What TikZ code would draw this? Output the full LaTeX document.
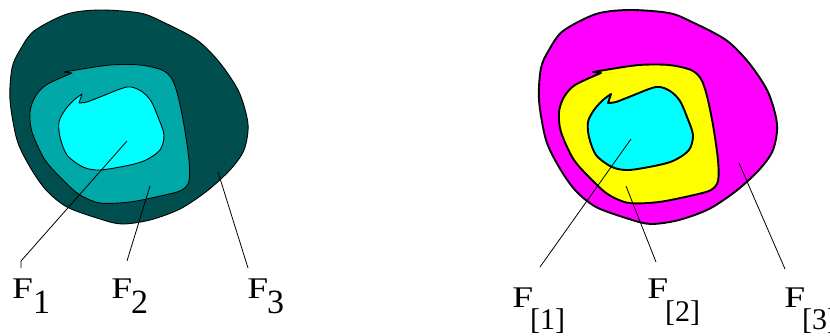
\documentclass[tikz,border=0pt]{standalone}
\usepackage{fontspec}
\setmainfont{Liberation Serif}
\definecolor{darkteal}{RGB}{0,78,78}
\definecolor{midteal}{RGB}{0,168,168}
\definecolor{brightcyan}{RGB}{0,255,255}
\definecolor{brightmag}{RGB}{255,0,255}
\definecolor{brightyel}{RGB}{255,255,0}
\begin{document}
\begin{tikzpicture}[x=1pt,y=-1pt,
  region/.style={draw=black,line join=round},
  thinregion/.style={region,line width=0.9pt},
  thickregion/.style={region,line width=1.9pt},
  leader/.style={draw=black,line width=0.8pt},
  bigF/.style={anchor=base west,inner sep=0pt,font=\fontsize{30}{30}\selectfont,xscale=1.25},
  subL/.style={anchor=base west,inner sep=0pt,font=\fontsize{34}{34}\selectfont},
  subR/.style={anchor=base west,inner sep=0pt,font=\fontsize{30}{30}\selectfont}]
\useasboundingbox (0,0) rectangle (830,335);
\def\OuterPts{(10,100)(12,68)(20,50)(34,31)(67,14)(100,10)(140,13)(163,22)(197,40)(220,63)(239,92)(248,124)(244,150)(230,170)(207,191)(180,209)(150,220)(122,224)(100,219)(67,207)(46,190)(30,167)(17,140)}
\def\MiddlePts{(76,70)(110,65)(140,65)(162,70)(172,79)(178,96)(184,125)(189,160)(189,181)(182,190)(165,195)(130,202)(100,203)(80,195)(65,182)(45,160)(32,132)(30,112)(35,97)(46,85)(72,73)}
\def\InnerPts{(79,103)(87,102)(100,97)(127,87)(141,91)(151,101)(158,117)(164,135)(160,150)(146,160)(130,165)(100,170)(83,167)(67,155)(60,137)(59,122)(65,110)(74,100)(82,94)}
% left figure
\path[thinregion,fill=darkteal] plot[smooth cycle] coordinates {\OuterPts};
\path[thinregion,fill=midteal] plot[smooth] coordinates {\MiddlePts} -- (64,72) -- cycle;
\path[thinregion,fill=brightcyan] plot[smooth] coordinates {\InnerPts} -- cycle;
% right figure
\begin{scope}[xshift=529pt]
\path[thickregion,fill=brightmag] plot[smooth cycle] coordinates {\OuterPts};
\path[thickregion,fill=brightyel] plot[smooth] coordinates {\MiddlePts} -- (64,72) -- cycle;
\path[thickregion,fill=brightcyan] plot[smooth] coordinates {\InnerPts} -- cycle;
\end{scope}
% label anchors
\coordinate (pa1) at (127,141);
\coordinate (ka1) at (21,261);
\coordinate (ea1) at (21,268);
\coordinate (pa2) at (150,186);
\coordinate (ea2) at (127,261);
\coordinate (pa3) at (218,172);
\coordinate (ea3) at (248,268);
\coordinate (pb1) at (631,139);
\coordinate (eb1) at (540,267);
\coordinate (pb2) at (626,186);
\coordinate (eb2) at (656,262);
\coordinate (pb3) at (739,163);
\coordinate (eb3) at (785,269);
\draw[leader] (pa1) -- (ka1) -- (ea1);
\draw[leader] (pa2) -- (ea2);
\draw[leader] (pa3) -- (ea3);
\draw[leader] (pb1) -- (eb1);
\draw[leader] (pb2) -- (eb2);
\draw[leader] (pb3) -- (eb3);
% labels
\node[bigF] (fa1) at (12,298) {F};
\node[subL] (sa1) at (33,313) {1};
\node[bigF] (fa2) at (111,298) {F};
\node[subL] (sa2) at (131,313) {2};
\node[bigF] (fa3) at (247,298) {F};
\node[subL] (sa3) at (267,313) {3};
\node[bigF] (fb1) at (512,307) {F};
\node[subR] (sb1) at (530,329) {[1]};
\node[bigF] (fb2) at (647,298) {F};
\node[subR] (sb2) at (665,321) {[2]};
\node[bigF] (fb3) at (784,307) {F};
\node[subR] (sb3) at (802,329) {[3]};
\end{tikzpicture}
\end{document}
